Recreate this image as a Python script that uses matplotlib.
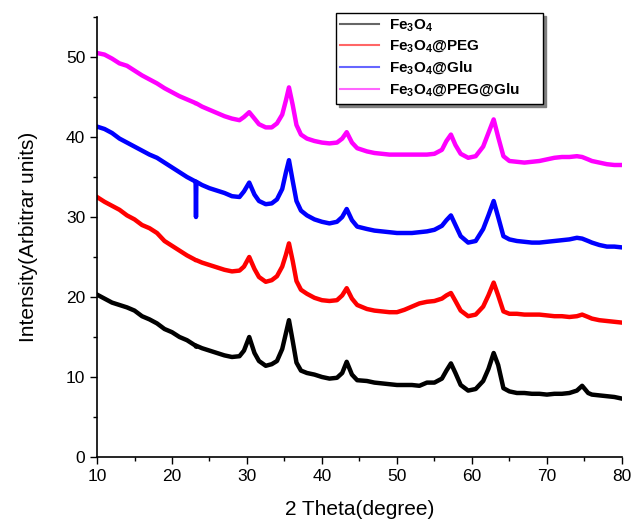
import matplotlib
matplotlib.use("Agg")
import matplotlib.pyplot as plt
from matplotlib.ticker import MultipleLocator

plt.rcParams['font.family'] = ['Liberation Sans', 'DejaVu Sans']
plt.rcParams['mathtext.fontset'] = 'custom'
plt.rcParams['mathtext.bf'] = 'Liberation Sans:bold'
plt.rcParams['mathtext.rm'] = 'Liberation Sans'

# 2-theta positions (degrees) where the patterns were read
two_theta = [10, 11, 12, 13, 14, 15, 16, 17, 18, 19, 20, 21, 22, 23,
             23.15, 23.2, 23.25, 24, 25, 26, 27, 28, 29,
             29.6, 30.3, 31, 31.6, 32.5, 33.3, 34, 34.7, 35.2, 35.6, 36.1, 36.6, 37.2,
             38, 39, 40, 41, 42, 42.7, 43.3, 44, 44.7,
             46, 47, 48, 49, 50, 51, 52, 53, 54, 55, 56,
             56.6, 57.2, 57.8, 58.5, 59.5, 60.5, 61.5, 62.2, 62.9, 63.5, 64.2,
             65, 66, 67, 68, 69, 70, 71, 72, 73, 74,
             74.7, 75.5, 76, 77, 78, 79, 80]

fe3o4 = [20.3, 19.8, 19.3, 19.0, 18.7, 18.3, 17.6, 17.2, 16.7, 16.0, 15.6, 15.0, 14.6, 14.0,
         13.9, 13.8, 13.9, 13.6, 13.3, 13.0, 12.7, 12.5, 12.6,
         13.3, 15.0, 13.0, 12.0, 11.4, 11.6, 12.0, 13.5, 15.5, 17.1, 14.5, 11.8, 10.8,
         10.5, 10.3, 10.0, 9.8, 9.9, 10.5, 11.9, 10.3, 9.6,
         9.5, 9.3, 9.2, 9.1, 9.0, 9.0, 9.0, 8.9, 9.3, 9.3, 9.8,
         10.8, 11.7, 10.5, 9.0, 8.3, 8.5, 9.5, 11.0, 13.0, 11.5, 8.6,
         8.2, 8.0, 8.0, 7.9, 7.9, 7.8, 7.9, 7.9, 8.0, 8.3,
         8.9, 8.0, 7.8, 7.7, 7.6, 7.5, 7.3]

fe3o4_peg = [32.5, 31.9, 31.4, 30.9, 30.2, 29.7, 29.0, 28.6, 28.0, 27.0, 26.4, 25.8, 25.2, 24.7,
             24.6, 24.6, 24.6, 24.3, 24.0, 23.7, 23.4, 23.2, 23.3,
             23.8, 25.0, 23.5, 22.5, 21.9, 22.1, 22.6, 23.8, 25.3, 26.7, 24.5, 22.0, 20.9,
             20.4, 19.9, 19.6, 19.5, 19.6, 20.2, 21.1, 19.8, 19.0,
             18.5, 18.3, 18.2, 18.1, 18.1, 18.4, 18.8, 19.2, 19.4, 19.5, 19.8,
             20.2, 20.5, 19.5, 18.3, 17.6, 17.8, 18.8, 20.2, 21.8, 20.2, 18.2,
             17.9, 17.9, 17.8, 17.8, 17.8, 17.7, 17.6, 17.6, 17.5, 17.6,
             17.8, 17.5, 17.3, 17.1, 17.0, 16.9, 16.8]

fe3o4_glu = [41.3, 41.0, 40.5, 39.8, 39.3, 38.8, 38.3, 37.8, 37.4, 36.8, 36.2, 35.6, 35.0, 34.5,
             34.4, 30.0, 34.4, 34.0, 33.6, 33.3, 33.0, 32.6, 32.5,
             33.2, 34.3, 32.8, 32.0, 31.6, 31.7, 32.2, 33.5, 35.6, 37.1, 34.5, 32.0, 30.8,
             30.2, 29.7, 29.4, 29.2, 29.4, 30.0, 31.0, 29.6, 28.8,
             28.5, 28.3, 28.2, 28.1, 28.0, 28.0, 28.0, 28.1, 28.2, 28.4, 28.9,
             29.6, 30.2, 29.0, 27.6, 26.8, 27.0, 28.5, 30.2, 32.0, 30.0, 27.6,
             27.2, 27.0, 26.9, 26.8, 26.8, 26.9, 27.0, 27.1, 27.2, 27.4,
             27.3, 27.0, 26.8, 26.5, 26.3, 26.3, 26.2]

fe3o4_peg_glu = [50.5, 50.3, 49.8, 49.2, 48.9, 48.3, 47.7, 47.2, 46.7, 46.1, 45.6, 45.1, 44.7, 44.3,
                 44.2, 44.2, 44.2, 43.8, 43.4, 43.0, 42.6, 42.3, 42.1,
                 42.5, 43.1, 42.3, 41.6, 41.2, 41.2, 41.7, 42.8, 44.6, 46.2, 44.0, 41.5, 40.3,
                 39.8, 39.5, 39.3, 39.2, 39.3, 39.8, 40.6, 39.3, 38.6,
                 38.2, 38.0, 37.9, 37.8, 37.8, 37.8, 37.8, 37.8, 37.8, 37.9, 38.4,
                 39.5, 40.3, 39.0, 37.9, 37.4, 37.6, 38.8, 40.5, 42.2, 40.0, 37.6,
                 37.0, 36.9, 36.8, 36.9, 37.0, 37.2, 37.4, 37.5, 37.5, 37.6,
                 37.5, 37.2, 37.0, 36.8, 36.6, 36.5, 36.5]

series = [fe3o4, fe3o4_peg, fe3o4_glu, fe3o4_peg_glu]
labels = [r'Fe$_{\mathbf{3}}$O$_{\mathbf{4}}$',
          r'Fe$_{\mathbf{3}}$O$_{\mathbf{4}}$@PEG',
          r'Fe$_{\mathbf{3}}$O$_{\mathbf{4}}$@Glu',
          r'Fe$_{\mathbf{3}}$O$_{\mathbf{4}}$@PEG@Glu     ']
colors = ['black', 'red', 'blue', 'magenta']

fig = plt.figure(figsize=(6.32, 5.23), dpi=100)
ax = fig.add_axes([0.1535, 0.1262, 0.8305, 0.8413])

handles = []
for y, lab, c in zip(series, labels, colors):
    # thick stroke stands in for the counting noise band
    ax.plot(two_theta, y, color=c, lw=3.2, solid_joinstyle='round')
    # thin proxy line for the legend key
    h, = ax.plot([], [], color=c, lw=1.5, alpha=0.6, label=lab)
    handles.append(h)

ax.set_xlim(10, 80)
ax.set_ylim(0, 55)
ax.xaxis.set_major_locator(MultipleLocator(10))
ax.xaxis.set_minor_locator(MultipleLocator(5))
ax.yaxis.set_major_locator(MultipleLocator(10))
ax.yaxis.set_minor_locator(MultipleLocator(5))
ax.tick_params(which='major', direction='out', length=5, width=1, labelsize=12.5)
ax.tick_params(which='minor', direction='out', length=3, width=1)
for side in ['top', 'right']:
    ax.spines[side].set_visible(False)
for side in ['left', 'bottom']:
    ax.spines[side].set_linewidth(1.2)

ax.set_xlabel('2 Theta(degree)', fontsize=15, labelpad=12)
ax.set_ylabel('Intensity(Arbitrar units)', fontsize=15, labelpad=20)

leg = ax.legend(handles=handles, loc='upper left', bbox_to_anchor=(0.455, 1.009),
                borderaxespad=0, fancybox=False, edgecolor='black',
                shadow={'color': '0.5', 'alpha': 1.0},
                prop={'weight': 'bold', 'size': 11},
                handlelength=2.5, handletextpad=0.7, labelspacing=0.3,
                borderpad=0.3, framealpha=1)
leg.get_frame().set_linewidth(1.0)

fig.savefig('out.png', dpi=100)
